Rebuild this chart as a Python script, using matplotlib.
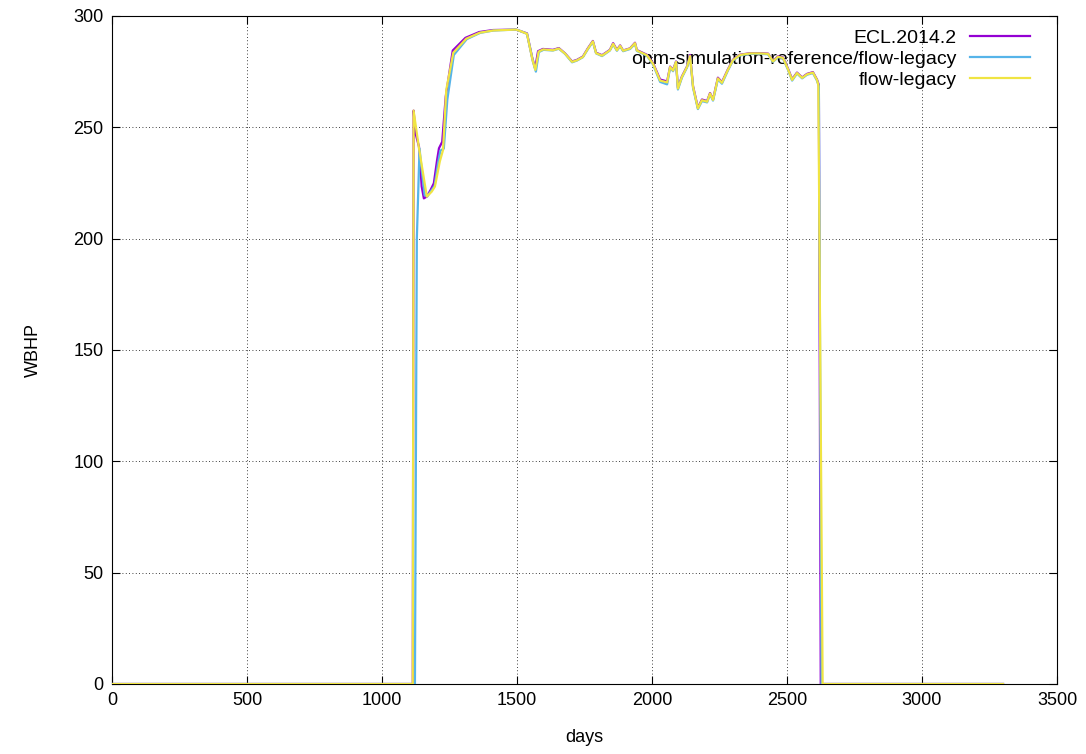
import matplotlib
matplotlib.use('Agg')
import matplotlib.pyplot as plt

# ECL.2014.2
ecl_days = [0, 1114, 1117, 1124, 1137, 1147, 1155, 1166, 1180, 1192, 1204, 1211, 1223, 1236,
            1262, 1309, 1360, 1411, 1496, 1511, 1537, 1556, 1567, 1578, 1596, 1633, 1655, 1678,
            1704, 1722, 1744, 1763, 1781, 1793, 1815, 1844, 1856, 1870, 1882, 1893, 1919, 1937,
            1944, 1981, 2004, 2030, 2056, 2067, 2078, 2089, 2096, 2111, 2130, 2141, 2152, 2170,
            2185, 2204, 2215, 2226, 2244, 2259, 2281, 2300, 2326, 2363, 2400, 2430, 2448, 2467,
            2485, 2504, 2519, 2537, 2556, 2574, 2596, 2611, 2618, 2625, 3300]
ecl_wbhp = [0, 0, 257.5, 247.4, 241.3, 223.4, 218.1, 218.9, 221.9, 224.9, 235.3, 240.6, 243.5, 263.8,
            284.5, 290.2, 292.8, 293.7, 293.9, 293.3, 292.2, 281.5, 276.5, 284.2, 285.2, 284.8, 285.6, 283.2,
            279.6, 280.3, 281.8, 285.6, 288.8, 283.5, 282.4, 284.8, 287.8, 284.8, 286.8, 284.5, 285.5, 288.0,
            284.7, 282.6, 278.8, 271.5, 270.6, 277.3, 275.8, 279.6, 267.8, 272.9, 277.4, 282.5, 268.5, 258.8,
            262.5, 261.8, 265.4, 262.5, 272.3, 270.3, 276.0, 280.4, 282.6, 283.3, 283.3, 283.1, 279.8, 281.9,
            281.4, 276.3, 271.6, 274.6, 272.4, 274.0, 274.8, 271.5, 269.0, 0, 0]

# opm-simulation-reference/flow-legacy
ref_days = [0, 1122, 1129, 1139, 1147, 1158, 1168, 1182, 1195, 1207, 1216, 1229, 1242,
            1266, 1314, 1363, 1413, 1496, 1511, 1537, 1559, 1570, 1581, 1598, 1633, 1655, 1678,
            1704, 1722, 1744, 1763, 1781, 1793, 1815, 1844, 1856, 1870, 1882, 1893, 1919, 1937,
            1944, 1981, 2004, 2030, 2056, 2067, 2078, 2089, 2096, 2111, 2130, 2141, 2152, 2170,
            2185, 2204, 2215, 2226, 2244, 2259, 2281, 2300, 2326, 2363, 2400, 2430, 2448, 2467,
            2485, 2504, 2519, 2537, 2556, 2574, 2596, 2611, 2618, 2628, 3300]
ref_wbhp = [0, 0, 200.0, 240.5, 231.0, 219.5, 219.0, 221.5, 223.8, 233.5, 239.5, 240.5, 262.5,
            282.5, 289.6, 292.4, 293.5, 293.9, 293.3, 292.0, 279.5, 275.0, 283.8, 284.8, 284.5, 285.3, 283.0,
            279.2, 280.0, 281.5, 285.2, 288.4, 283.2, 282.0, 284.5, 287.2, 284.4, 286.4, 284.2, 285.2, 287.5,
            284.3, 282.2, 278.2, 270.4, 269.3, 276.8, 275.2, 279.2, 267.0, 272.4, 277.0, 281.8, 267.8, 258.2,
            261.8, 261.2, 264.8, 262.0, 271.6, 269.6, 275.5, 280.0, 282.3, 283.0, 283.0, 282.8, 279.4, 281.5,
            281.0, 275.8, 271.0, 274.2, 272.0, 273.6, 274.4, 271.0, 268.5, 0, 0]

# flow-legacy
flow_days = [0, 1114, 1117, 1137, 1166, 1184, 1196, 1214, 1226, 1238,
             1264, 1312, 1362, 1412, 1496, 1511, 1537, 1558, 1568, 1580, 1597, 1633, 1655, 1678,
             1704, 1722, 1744, 1763, 1781, 1793, 1815, 1844, 1856, 1870, 1882, 1893, 1919, 1937,
             1944, 1981, 2004, 2030, 2056, 2067, 2078, 2089, 2096, 2111, 2130, 2141, 2152, 2170,
             2185, 2204, 2215, 2226, 2244, 2259, 2281, 2300, 2326, 2363, 2400, 2430, 2448, 2467,
             2485, 2504, 2519, 2537, 2556, 2574, 2596, 2611, 2616, 2632, 3300]
flow_wbhp = [0, 0, 257.5, 240.6, 218.9, 221.1, 223.4, 234.6, 239.8, 266.8,
             283.5, 289.8, 292.5, 293.5, 293.9, 293.3, 292.0, 280.0, 275.8, 284.0, 285.0, 284.6, 285.4, 283.1,
             279.4, 280.1, 281.6, 285.4, 288.6, 283.3, 282.2, 284.6, 287.5, 284.6, 286.6, 284.4, 285.4, 287.8,
             284.5, 282.4, 278.5, 271.0, 270.2, 277.1, 275.5, 279.4, 267.4, 272.7, 277.2, 282.0, 268.2, 258.5,
             262.2, 261.5, 265.2, 262.3, 272.0, 270.0, 275.8, 280.2, 282.5, 283.2, 283.2, 283.0, 279.6, 281.7,
             281.2, 276.0, 271.3, 274.4, 272.2, 273.8, 274.6, 271.3, 269.0, 0, 0]

plt.rcParams['font.family'] = ['Liberation Sans', 'DejaVu Sans']
FS = 13

fig = plt.figure(figsize=(10.86, 7.54), dpi=100)
ax = fig.add_axes([112 / 1086, 70 / 754, 945 / 1086, 668 / 754])

ax.plot(ecl_days, ecl_wbhp, color='#9400D3', lw=1.6, label='ECL.2014.2', zorder=3)
ax.plot(ref_days, ref_wbhp, color='#56B4E9', lw=1.6,
        label='opm-simulation-reference/flow-legacy', zorder=3)
ax.plot(flow_days, flow_wbhp, color='#F0E442', lw=1.6, label='flow-legacy', zorder=3)

ax.set_xlim(0, 3500)
ax.set_ylim(0, 300)
ax.set_xticks(range(0, 3501, 500))
ax.set_yticks(range(0, 301, 50))
ax.tick_params(direction='in', top=True, right=True, length=6, width=0.8,
               labelsize=FS, pad=6)
ax.grid(True, color='black', lw=0.6, linestyle=(0, (1, 3)))
for s in ax.spines.values():
    s.set_linewidth(0.8)

ax.set_xlabel('days', fontsize=FS, labelpad=14)
ax.set_ylabel('WBHP', fontsize=FS, labelpad=23)

# gnuplot-style key: text right-aligned, sample line on the right
leg = ax.legend(loc='upper right', bbox_to_anchor=(0.9717, 0.9805), frameon=False,
                markerfirst=False, fontsize=14, handlelength=3.1, handletextpad=0.7,
                labelspacing=0.18, borderpad=0.0, borderaxespad=0.0)
leg.set_zorder(2)

fig.savefig('out.png', dpi=100)
